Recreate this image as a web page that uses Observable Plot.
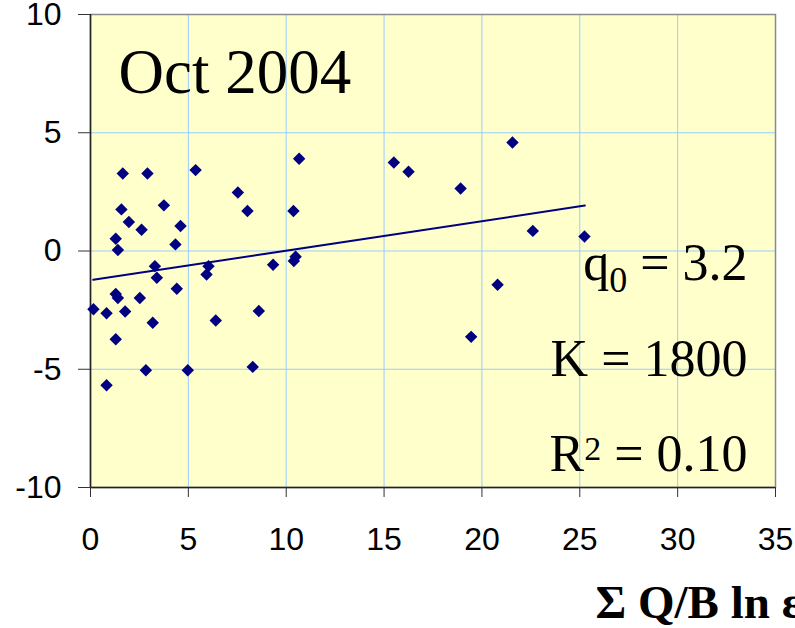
<!DOCTYPE html>
<html>
<head>
<meta charset="utf-8">
<script src="https://cdn.jsdelivr.net/npm/d3@7"></script>
<script src="https://cdn.jsdelivr.net/npm/@observablehq/plot@0.6"></script>
<style>
  html, body { margin: 0; padding: 0; background: #ffffff; overflow: hidden; }
  #chart { width: 795px; height: 628px; }
</style>
</head>
<body>
<div id="chart"></div>
<script>
// ---- data ----
const pointX = [1.65, 2.91, 5.37, 10.66, 1.58, 3.75, 7.53, 8.02, 10.37, 1.96,
                2.61, 4.60, 1.29, 1.40, 4.34, 3.29, 3.39, 6.03, 5.93, 9.33,
                10.48, 10.39, 1.29, 1.40, 2.52, 4.41, 0.15, 0.82, 1.77, 3.18,
                6.40, 8.60, 1.29, 2.83, 4.97, 8.29, 0.82,
                15.50, 16.25, 18.91, 21.56, 22.60, 25.24, 20.80, 19.45];
const pointY = [3.28, 3.28, 3.42, 3.90, 1.76, 1.93, 2.47, 1.69, 1.69, 1.23,
                0.90, 1.06, 0.52, 0.04, 0.28, -0.64, -1.13, -0.64, -0.99, -0.58,
                -0.24, -0.42, -1.82, -1.99, -1.99, -1.60, -2.46, -2.63, -2.56, -3.03,
                -2.94, -2.54, -3.73, -5.04, -5.04, -4.90, -5.68,
                3.74, 3.35, 2.64, 4.59, 0.85, 0.61, -1.43, -3.63];
const trendX = [0.14, 25.26];
const trendY = [-1.22, 1.92];
const xTicks = [0, 5, 10, 15, 20, 25, 30, 35];
const yTicks = [-10, -5, 0, 5, 10];
const yTickLabels = ["-10", "-5", "0", "5", "10"];
const xTickLabels = ["0", "5", "10", "15", "20", "25", "30", "35"];
const titleText = "Oct 2004";
const statLabels = ["q0 = 3.2", "K = 1800", "R2 = 0.10"];
const xAxisLabel = "\u03A3 Q/B ln \u03B5";

const points = pointX.map((x, i) => ({x, y: pointY[i]}));
const trend = trendX.map((x, i) => ({x, y: trendY[i]}));

const navy = "#000080";
const W = 795, H = 628;
const mL = 90, mR = 20, mT = 14, mB = 141;

const serif = "'Liberation Serif', 'Times New Roman', serif";
const statSize = 52;

const chart = Plot.plot({
  width: W,
  height: H,
  marginLeft: mL,
  marginRight: mR,
  marginTop: mT,
  marginBottom: mB,
  style: {background: "#ffffff", fontFamily: "'Liberation Sans', Arial, sans-serif", fontSize: "32px", color: "#000", overflow: "hidden"},
  x: {domain: [0, 35], axis: null},
  y: {domain: [-10, 10], axis: null},
  marks: [
    Plot.frame({fill: "#ffffcc", stroke: null}),
    Plot.gridX(xTicks.slice(1, -1), {stroke: "#99ccff", strokeOpacity: 1, strokeWidth: 1}),
    Plot.gridY(yTicks.slice(1, -1), {stroke: "#99ccff", strokeOpacity: 1, strokeWidth: 1}),
    Plot.frame({stroke: "#8a8a8a", strokeWidth: 1.5}),
    Plot.ruleX([0], {stroke: "#222", strokeWidth: 1.5}),
    Plot.ruleY([-10], {stroke: "#222", strokeWidth: 1.5}),
    Plot.axisX(xTicks, {tickSize: 10, tickPadding: 30, fontSize: 32, stroke: "#333", label: null,
      tickFormat: (d) => xTickLabels[xTicks.indexOf(d)]}),
    Plot.axisY(yTicks, {tickSize: 12, tickPadding: 17, fontSize: 32, stroke: "#333", label: null,
      tickFormat: (d) => yTickLabels[yTicks.indexOf(d)]}),
    Plot.line(trend, {x: "x", y: "y", stroke: navy, strokeWidth: 2}),
    Plot.dot(points, {x: "x", y: "y", symbol: "diamond2", r: 5.6, fill: navy, stroke: "none"}),
    Plot.text([titleText], {frameAnchor: "top-left", lineAnchor: "middle", text: (d) => d, textAnchor: "start",
      dx: 28, dy: 58.5, fontSize: 63, fontFamily: serif, fill: "#000"}),
    Plot.text([statLabels[0]], {frameAnchor: "top-right", lineAnchor: "middle", text: (d) => d, textAnchor: "end",
      dx: -28, dy: 248.4, fontSize: statSize, fontFamily: serif, fill: "#000"}),
    Plot.text([statLabels[1]], {frameAnchor: "top-right", lineAnchor: "middle", text: (d) => d, textAnchor: "end",
      dx: -28, dy: 344.4, fontSize: statSize, fontFamily: serif, fill: "#000"}),
    Plot.text([statLabels[2]], {frameAnchor: "top-right", lineAnchor: "middle", text: (d) => d, textAnchor: "end",
      dx: -28, dy: 439.4, fontSize: statSize, fontFamily: serif, fill: "#000"}),
    Plot.text([xAxisLabel], {frameAnchor: "bottom-left", lineAnchor: "middle", text: (d) => d, textAnchor: "start",
      dx: 505, dy: 115.5, fontSize: 47, fontWeight: "bold", fontFamily: serif, fill: "#000"})
  ]
});

// subscript / superscript in the statistics
const svg = d3.select(chart);
svg.selectAll("text").each(function() {
  const t = d3.select(this);
  const s = t.text();
  if (s === statLabels[0]) {
    t.text("");
    t.append("tspan").text("q");
    t.append("tspan").attr("dy", 12).attr("font-size", 36).text("0");
    t.append("tspan").attr("dy", -12).text(" = 3.2");
  } else if (s === statLabels[2]) {
    t.text("");
    t.append("tspan").text("R");
    t.append("tspan").attr("dy", -11).attr("font-size", 34).text("2");
    t.append("tspan").attr("dy", 11).text(" = 0.10");
  }
});

document.getElementById("chart").appendChild(chart);
</script>
</body>
</html>
